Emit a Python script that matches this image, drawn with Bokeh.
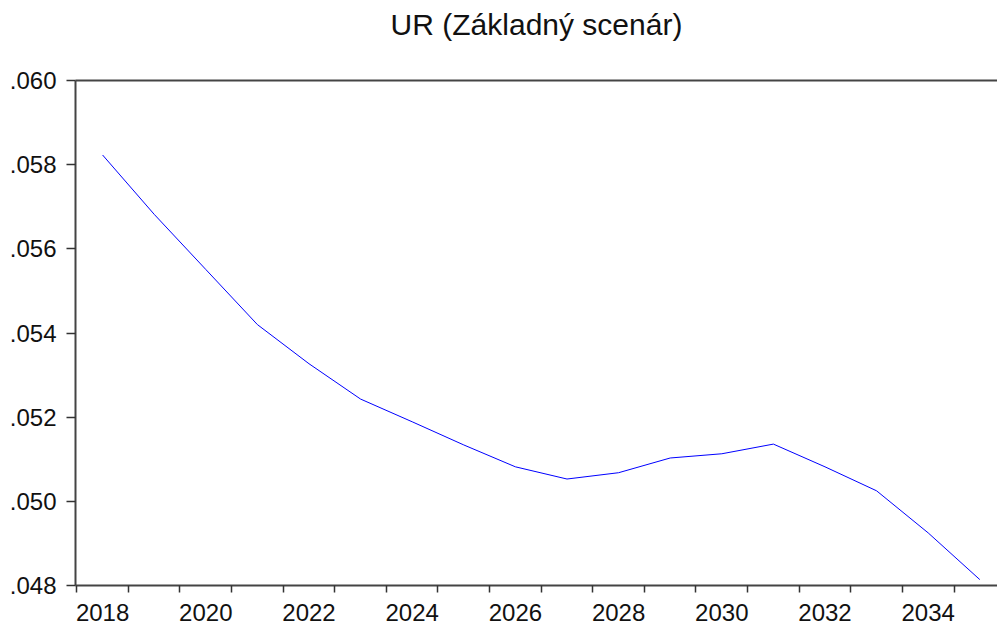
from bokeh.plotting import figure
from bokeh.models import FixedTicker, Range1d, LinearAxis
from bokeh.embed import file_html
from bokeh.resources import INLINE

# ---- data ----
years = [2018, 2019, 2020, 2021, 2022, 2023, 2024, 2025, 2026,
         2027, 2028, 2029, 2030, 2031, 2032, 2033, 2034, 2035]
ur = [0.05823, 0.05682, 0.05551, 0.05420, 0.05327, 0.05243, 0.05189,
      0.05134, 0.05082, 0.05053, 0.05068, 0.05103, 0.05113, 0.05136,
      0.05082, 0.05025, 0.04925, 0.04814]

x_label_years = [2018, 2020, 2022, 2024, 2026, 2028, 2030, 2032, 2034]
x_tick_labels = ["2018", "2020", "2022", "2024", "2026", "2028", "2030", "2032", "2034"]
# period boundaries (EViews draws ticks between years)
x_boundaries = [y - 0.5 for y in years]

y_ticks = [0.048, 0.050, 0.052, 0.054, 0.056, 0.058, 0.060]
y_tick_labels = [".048", ".050", ".052", ".054", ".056", ".058", ".060"]

title_text = "UR (Základný scenár)"

FONT = "Liberation Sans"
AXIS_COLOR = "#444444"

p = figure(width=997, height=626,
           x_range=Range1d(2017.475, 2035.343),
           y_range=Range1d(y_ticks[0], y_ticks[-1]),
           output_backend="svg", toolbar_location=None,
           min_border_left=75, min_border_right=0,
           min_border_top=80, min_border_bottom=41,
           outline_line_color=None,
           background_fill_color="white", border_fill_color="white")

p.xgrid.visible = False
p.ygrid.visible = False

p.line(years, ur, line_color="#0000ff", line_width=1)

# y axis
ya = p.left[0]
ya.ticker = FixedTicker(ticks=y_ticks)
ya.major_label_overrides = dict(zip(y_ticks, y_tick_labels))
ya.major_tick_out = 9
ya.major_tick_in = 0
ya.minor_tick_line_color = None
ya.major_tick_line_color = "#333333"
ya.major_tick_line_width = 1.5
ya.axis_line_color = AXIS_COLOR
ya.axis_line_width = 2
ya.major_label_text_font = FONT
ya.major_label_text_font_size = "24px"
ya.major_label_text_color = "#111111"
ya.major_label_standoff = 10

# x axis (bottom)
xa = p.below[0]
xa.ticker = FixedTicker(ticks=x_label_years, minor_ticks=x_boundaries)
xa.major_label_overrides = dict(zip(x_label_years, x_tick_labels))
xa.major_tick_out = 0
xa.major_tick_in = 0
xa.major_tick_line_color = None
xa.minor_tick_out = 7
xa.minor_tick_in = 0
xa.minor_tick_line_color = "#333333"
xa.minor_tick_line_width = 1.5
xa.axis_line_color = AXIS_COLOR
xa.axis_line_width = 2
xa.major_label_text_font = FONT
xa.major_label_text_font_size = "24px"
xa.major_label_text_color = "#111111"
xa.major_label_standoff = 11

# top border of the frame: an axis above with one invisible tick and no
# visible label; its (invisible) tick length spaces the title away
spacer_tick = [x_label_years[0]]
top_axis = LinearAxis(ticker=FixedTicker(ticks=spacer_tick, minor_ticks=[]),
                      major_label_overrides={spacer_tick[0]: ""},
                      major_label_text_font_size="1px",
                      major_tick_out=39, major_tick_in=0,
                      minor_tick_out=0, minor_tick_in=0,
                      major_tick_line_color=None, minor_tick_line_color=None,
                      major_label_standoff=0,
                      axis_line_color=AXIS_COLOR, axis_line_width=2)
p.add_layout(top_axis, "above")

# title
p.title.text = title_text
p.title.text_font = FONT
p.title.text_font_size = "30px"
p.title.text_font_style = "normal"
p.title.text_color = "#111111"
p.title.align = "center"
p.title.vertical_align = "bottom"
p.title.offset = 4
p.title.standoff = 2

open("out.html", "w").write(file_html(p, INLINE))
